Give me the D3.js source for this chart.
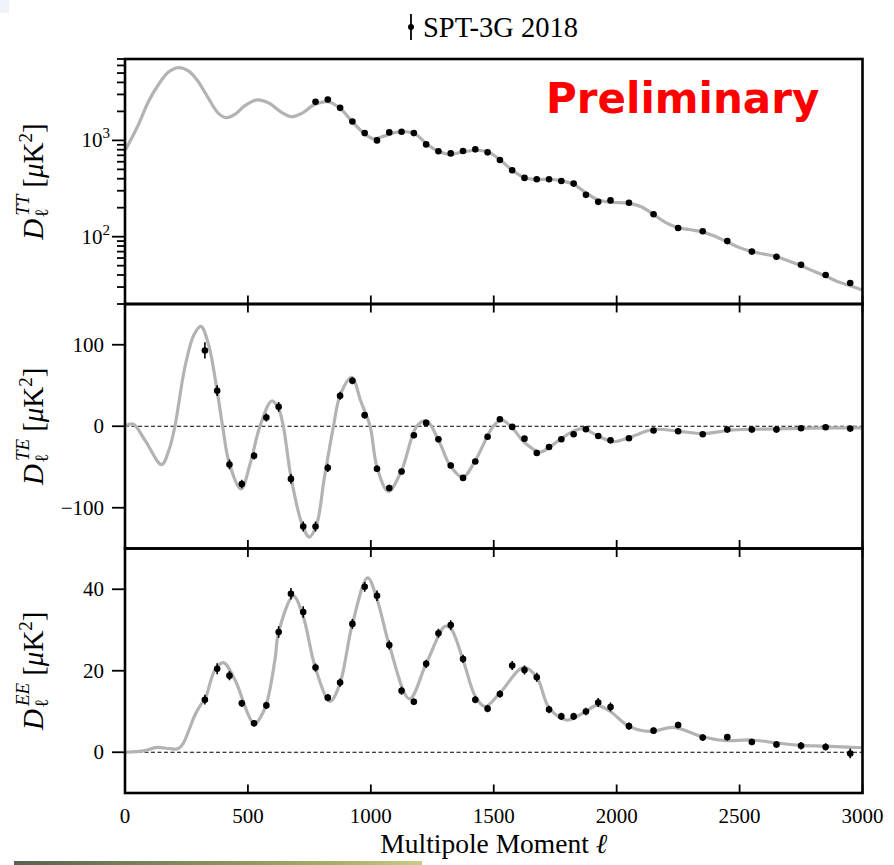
<!DOCTYPE html>
<html>
<head>
<meta charset="utf-8">
<script src="https://cdn.jsdelivr.net/npm/d3@7"></script>
<style>
  body { margin: 0; background: #fff; }
  svg { display: block; }
  text { font-family: "Liberation Serif", "DejaVu Serif", serif; fill: #000; }
  text.prelim { font-family: "DejaVu Sans", Verdana, sans-serif; font-weight: bold; fill: #ff0000; }
</style>
</head>
<body>
<main></main>
<script>
// ---- binned SPT-3G 2018 bandpowers ----
const ell_TT = [775, 825, 875, 925, 975, 1025, 1075, 1125, 1175, 1225, 1275, 1325, 1375, 1425, 1475,
    1525, 1575, 1625, 1675, 1725, 1775, 1825, 1875, 1925, 1975,
    2050, 2150, 2250, 2350, 2450, 2550, 2650, 2750, 2850, 2950];
const dl_TT = [2513, 2656, 2178, 1571, 1190, 1000, 1210, 1230, 1190, 909, 770, 733, 775, 807, 751,
    626, 490, 408, 395, 395, 379, 356, 272, 230, 238,
    225, 171, 123, 114, 90, 70, 62, 51, 40, 33];
const err_TT = [30, 30, 25, 20, 16, 14, 14, 14, 13, 11, 10, 9, 9, 9, 9,
    8, 7, 6, 6, 6, 6, 6, 5, 5, 5,
    4, 3, 3, 3, 2.5, 2, 2, 2, 2, 2];

const ell_pol = [325, 375, 425, 475, 525, 575, 625, 675, 725, 775, 825, 875, 925, 975, 1025, 1075,
    1125, 1175, 1225, 1275, 1325, 1375, 1425, 1475, 1525, 1575, 1625, 1675, 1725, 1775, 1825,
    1875, 1925, 1975, 2050, 2150, 2250, 2350, 2450, 2550, 2650, 2750, 2850, 2950];
const dl_TE = [93, 43.6, -46.9, -70.8, -36.2, 10.7, 23.8, -64.6, -123, -123, -51, 37.4, 55.9, 13.6, -52.2, -75.7,
    -55.6, -11.1, 4.1, -16, -48.1, -63.4, -43.2, -12.8, 8.6, -0.8, -15.2, -32.9, -25.5, -16, -9.9,
    -3.7, -11.9, -17.3, -14.8, -5.3, -6.2, -9.9, -4.1, -4.1, -4.1, -2.5, -1.2, -2.9];
const err_TE = [10, 6.6, 6, 5.3, 4.7, 5, 6, 6, 6, 6, 5, 5, 4.3, 4, 4, 4,
    3.5, 3.5, 3.5, 3.5, 3.5, 3.5, 3, 3, 3, 3, 3, 3, 3, 3, 3,
    3, 3, 3, 3, 3, 3, 3, 3, 3, 3, 3, 3, 3];
const dl_EE = [12.9, 20.5, 18.8, 12.0, 7.1, 11.5, 29.5, 38.9, 34.4, 20.8, 13.4, 17.1, 31.5, 40.6, 38.4, 26.3,
    15.1, 12.4, 21.7, 29.2, 31.2, 22.9, 12.9, 10.7, 14.3, 21.3, 20.2, 18.4, 10.5, 8.8, 8.8,
    10.0, 12.2, 11.1, 6.4, 5.3, 6.7, 3.6, 3.7, 2.5, 1.9, 1.6, 1.3, -0.3];
const err_EE = [1.2, 1.35, 1.15, 0.9, 0.8, 0.9, 1.4, 1.4, 1.4, 1.0, 0.9, 1.0, 1.2, 1.2, 1.3, 1.1,
    1.0, 0.8, 1.0, 1.1, 1.2, 1.0, 0.9, 0.9, 0.9, 1.1, 1.1, 1.1, 0.9, 0.9, 0.9,
    0.9, 1.1, 1.1, 0.9, 0.8, 0.8, 0.8, 0.8, 0.8, 0.8, 0.9, 0.9, 1.2];

// ---- best-fit model curves (knots) ----
const ell_th_TT = [2, 54, 95, 135, 176, 217, 258, 298, 339, 380, 414, 447, 488, 536, 583, 637, 678, 719,
    773, 827, 875, 925, 975, 1010, 1050, 1100, 1140, 1180, 1225, 1275, 1320, 1375, 1430, 1475,
    1525, 1575, 1625, 1675, 1725, 1775, 1825, 1875, 1925, 1975, 2050, 2100, 2150, 2200, 2250,
    2300, 2350, 2400, 2450, 2500, 2550, 2600, 2650, 2700, 2750, 2800, 2850, 2900, 2950, 3000];
const th_TT = [800, 1445, 2520, 3760, 5090, 5690, 5260, 4070, 2740, 1910, 1720, 1865, 2292, 2630, 2462, 1958, 1763, 1910,
    2370, 2520, 2150, 1560, 1170, 1040, 1100, 1210, 1230, 1170, 930, 770, 715, 760, 790, 760,
    630, 490, 410, 393, 395, 380, 350, 285, 240, 228, 222, 205, 170, 140, 124,
    118, 112, 101, 88, 77, 70, 66, 62, 56, 50, 44, 39, 34, 31, 28];

const ell_th_TE = [2, 34, 81, 149, 180, 203, 244, 280, 309, 340, 375, 397, 424, 472, 510, 549, 597, 624,
    644, 675, 720, 750, 780, 810, 848, 875, 922, 960, 997, 1025, 1071, 1124, 1187, 1227, 1281,
    1322, 1374, 1425, 1498, 1532, 1575, 1625, 1688, 1725, 1775, 1824, 1865, 1924, 1987, 2050,
    2149, 2250, 2353, 2475, 2600, 2750, 2900, 3000];
const th_TE = [0.5, 2.5, -17, -47, -28, 0, 73, 112, 122.6, 100, 43, 0, -45, -77, -45, 0, 31, 22,
    0, -62, -120, -136, -120, -65, 0, 38, 60, 30, 0, -50, -80, -55, 0, 6.6, -21,
    -48, -62.6, -42, 0, 7.4, -2, -20, -31.7, -26, -15, -6, -3, -12, -19, -14,
    -4, -6, -9, -4.5, -3.5, -2.5, -2, -2];

const ell_th_EE = [2, 81, 129, 180, 217, 237, 258, 285, 312, 325, 366, 400, 447, 526, 569, 610, 625, 685, 724, 774, 834,
    873, 925, 987, 1025, 1075, 1157, 1225, 1302, 1325, 1374, 1425, 1465, 1526, 1621, 1675, 1725,
    1797, 1874, 1919, 1974, 2049, 2136, 2231, 2350, 2434, 2550, 2650, 2750, 2850, 3000];
const th_EE = [0, 0.4, 1.2, 0.9, 0.9, 2.2, 5.1, 9.2, 12.0, 12.9, 20.2, 22, 17.8, 7.1, 10.8, 22.7, 29.5, 38.3, 33.5, 20.8, 12.5,
    16.6, 31.5, 42.8, 37.6, 26.3, 13.1, 21.7, 30.9, 30.4, 22.9, 13.7, 11.2, 14.6, 20.8, 18.4, 10.9,
    7.9, 10, 11.5, 10, 6.4, 5.1, 6.1, 3.8, 2.9, 3.0, 2.3, 1.7, 1.5, 1.1];

const x_ticks = [0, 500, 1000, 1500, 2000, 2500, 3000];
const TT_major = [100, 1000];
const TT_minor = [20, 30, 40, 50, 60, 70, 80, 90, 200, 300, 400, 500, 600, 700, 800, 900,
    2000, 3000, 4000, 5000, 6000, 7000];
const TE_ticks = [-100, 0, 100];
const EE_ticks = [0, 20, 40];

/////////////////////////////////////////////////////
const width = 894;
const height = 865;
const left = 125, right = 862.5;
const panels = [{top: 59, bottom: 304}, {top: 304, bottom: 548.5}, {top: 548.5, bottom: 793}];
const lineColor = "#b3b3b3";

const svg = d3.select("main")
    .append("svg")
        .attr("width", width)
        .attr("height", height);

const x = d3.scaleLinear().domain([0, 3000]).range([left, right]);
const yTT = d3.scaleLog().domain([20, 7000]).range([panels[0].bottom, panels[0].top]);
const yTE = d3.scaleLinear().domain([-150, 150]).range([panels[1].bottom, panels[1].top]);
const yEE = d3.scaleLinear().domain([-10, 50]).range([panels[2].bottom, panels[2].top]);

// little photo artefacts of the slide
svg.append("rect").attr("x", 0).attr("y", 0).attr("width", 9).attr("height", 13).attr("fill", "#eef4fa");
const defs = svg.append("defs");
const grad = defs.append("linearGradient").attr("id", "strip");
[["0", "#56624f"], ["0.25", "#6f7d58"], ["0.55", "#8c975d"], ["0.8", "#a8b06a"], ["1", "#c9cd86"]]
    .forEach(([o, c]) => grad.append("stop").attr("offset", o).attr("stop-color", c));
svg.append("rect").attr("x", 14).attr("y", 861).attr("width", 408).attr("height", 4).attr("fill", "url(#strip)");

// clip paths for each panel
panels.forEach((p, i) => {
    defs.append("clipPath").attr("id", "clip" + i)
        .append("rect").attr("x", left).attr("y", p.top)
        .attr("width", right - left).attr("height", p.bottom - p.top);
});

function drawPanel(i, y, ellTh, th, ell, dl, err, zeroLine) {
    const g = svg.append("g").attr("clip-path", `url(#clip${i})`);
    if (zeroLine) {
        g.append("line")
            .attr("x1", left).attr("x2", right)
            .attr("y1", y(0)).attr("y2", y(0))
            .attr("stroke", "#000").attr("stroke-width", 1)
            .attr("stroke-dasharray", "4,2.5");
    }
    const line = d3.line()
        .x((d, k) => x(ellTh[k]))
        .y(d => y(d))
        .curve(d3.curveCatmullRom.alpha(0.5));
    g.append("path")
        .attr("d", line(th))
        .attr("fill", "none")
        .attr("stroke", lineColor)
        .attr("stroke-width", 3.2);

    const pts = ell.map((l, k) => ({l: l, v: dl[k], e: err[k]}));
    g.selectAll("line.err")
        .data(pts)
        .join("line")
            .attr("class", "err")
            .attr("x1", d => x(d.l)).attr("x2", d => x(d.l))
            .attr("y1", d => y(d.v - d.e)).attr("y2", d => y(d.v + d.e))
            .attr("stroke", "#000").attr("stroke-width", 1.6);
    g.selectAll("circle")
        .data(pts)
        .join("circle")
            .attr("cx", d => x(d.l))
            .attr("cy", d => y(d.v))
            .attr("r", 3.3)
            .attr("fill", "#000");
}

drawPanel(0, yTT, ell_th_TT, th_TT, ell_TT, dl_TT, err_TT, false);
drawPanel(1, yTE, ell_th_TE, th_TE, ell_pol, dl_TE, err_TE, true);
drawPanel(2, yEE, ell_th_EE, th_EE, ell_pol, dl_EE, err_EE, true);

// x ticks, pointing into each panel
function xTicks(yPos, dir) {
    svg.append("g")
        .selectAll("line")
        .data(x_ticks)
        .join("line")
            .attr("x1", d => x(d)).attr("x2", d => x(d))
            .attr("y1", yPos).attr("y2", yPos + dir * 8.5)
            .attr("stroke", "#000").attr("stroke-width", 1.8);
}
xTicks(panels[0].bottom, -1);
xTicks(panels[1].top, 1);
xTicks(panels[1].bottom, -1);
xTicks(panels[2].top, 1);
xTicks(panels[2].bottom, -1);

svg.append("g")
    .selectAll("text")
    .data(x_ticks)
    .join("text")
        .attr("x", d => x(d))
        .attr("y", 823)
        .attr("text-anchor", "middle")
        .attr("font-size", 21)
        .text(d => d);

svg.append("text")
    .attr("x", (left + right) / 2)
    .attr("y", 853)
    .attr("text-anchor", "middle")
    .attr("font-size", 27.5)
    .text("Multipole Moment ")
    .append("tspan").attr("font-style", "italic").text("ℓ");

// y ticks, pointing out
function yTicks(y, values, len) {
    svg.append("g")
        .selectAll("line")
        .data(values)
        .join("line")
            .attr("x1", left - len).attr("x2", left)
            .attr("y1", d => y(d)).attr("y2", d => y(d))
            .attr("stroke", "#000").attr("stroke-width", 1.8);
}
yTicks(yTT, TT_major, 13);
yTicks(yTT, TT_minor, 8);
yTicks(yTE, TE_ticks, 13);
yTicks(yEE, EE_ticks, 13);

const ttLab = svg.append("g")
    .selectAll("text")
    .data(TT_major)
    .join("text")
        .attr("x", 110)
        .attr("y", d => yTT(d) + 7)
        .attr("text-anchor", "end")
        .attr("font-size", 21);
ttLab.append("tspan").text("10");
ttLab.append("tspan").attr("font-size", 15).attr("dy", -9).text(d => Math.round(Math.log10(d)));

function yTickLabels(y, values) {
    svg.append("g")
        .selectAll("text")
        .data(values)
        .join("text")
            .attr("x", 104)
            .attr("y", d => y(d) + 7)
            .attr("text-anchor", "end")
            .attr("font-size", 21)
            .text(d => d < 0 ? "\u2212" + Math.abs(d) : d);
}
yTickLabels(yTE, TE_ticks);
yTickLabels(yEE, EE_ticks);

// y axis labels D_l^XY [muK^2]
function yLabel(p, sup) {
    const cy = (p.top + p.bottom) / 2;
    const t = svg.append("text")
        .attr("transform", `translate(43, ${cy}) rotate(-90)`)
        .attr("text-anchor", "middle")
        .attr("font-size", 29);
    t.append("tspan").attr("font-style", "italic").text("D");
    const sub = t.append("tspan").attr("font-size", 19).attr("dy", 5).attr("dx", 1).text("ℓ");
    const subW = sub.node().getComputedTextLength();
    t.append("tspan").attr("font-size", 19).attr("font-style", "italic")
        .attr("dy", -19).attr("dx", -subW + 2).text(sup);
    t.append("tspan").attr("dy", 14).attr("dx", 7).text("[");
    t.append("tspan").attr("font-style", "italic").text("μ");
    t.append("tspan").text("K");
    t.append("tspan").attr("font-size", 19).attr("dy", -11).text("2");
    t.append("tspan").attr("dy", 11).text("]");
}
yLabel(panels[0], "TT");
yLabel(panels[1], "TE");
yLabel(panels[2], "EE");

// panel frames
panels.forEach(p => {
    svg.append("rect")
        .attr("x", left).attr("y", p.top)
        .attr("width", right - left).attr("height", p.bottom - p.top)
        .attr("fill", "none")
        .attr("stroke", "#000")
        .attr("stroke-width", 2.6);
});

// legend
svg.append("line")
    .attr("x1", 411).attr("x2", 411).attr("y1", 14).attr("y2", 40)
    .attr("stroke", "#000").attr("stroke-width", 1.8);
svg.append("circle").attr("cx", 411).attr("cy", 27).attr("r", 3).attr("fill", "#000");
svg.append("text")
    .attr("x", 423).attr("y", 37)
    .attr("font-size", 28.5)
    .text("SPT-3G 2018");

svg.append("text")
    .attr("class", "prelim")
    .attr("x", 546).attr("y", 113)
    .attr("font-size", 42)
    .text("Preliminary");
</script>
</body>
</html>
